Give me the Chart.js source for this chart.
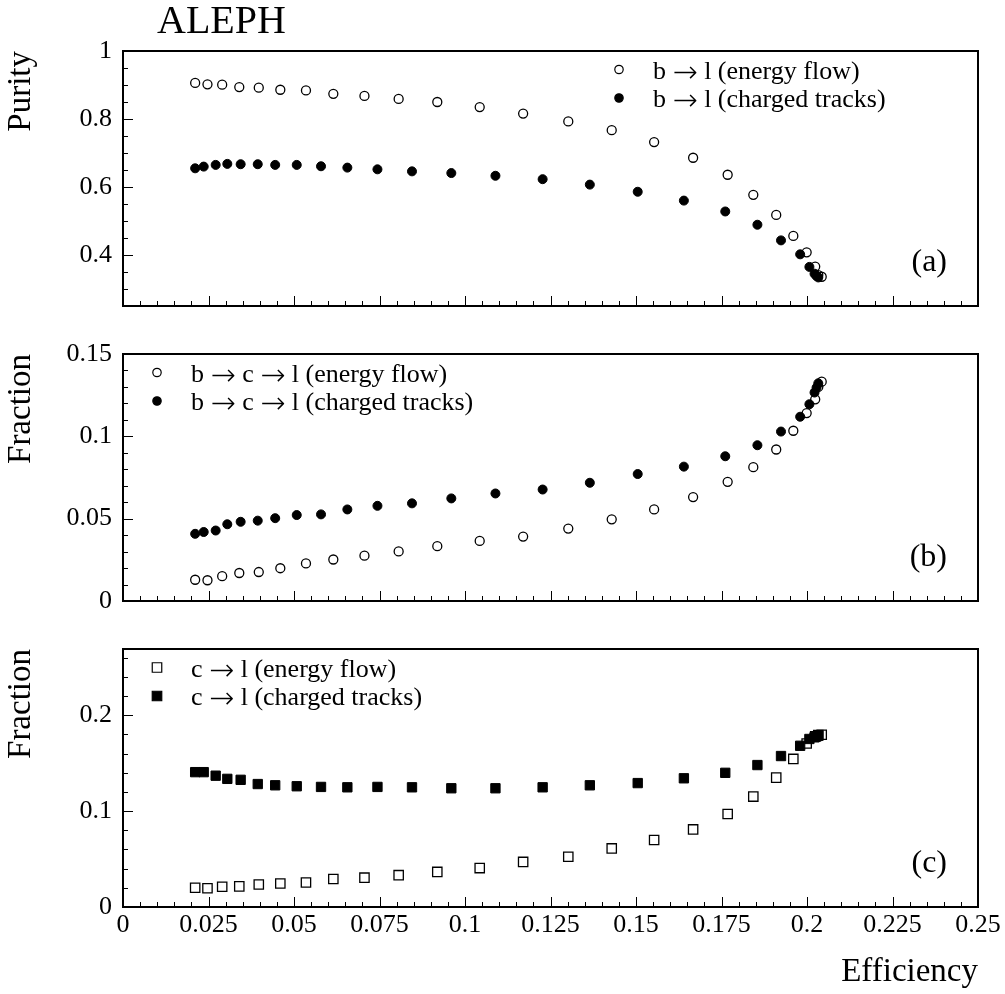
<!DOCTYPE html>
<html>
<head>
<meta charset="utf-8">
<script src="https://cdn.jsdelivr.net/npm/chart.js@4.4.0/dist/chart.umd.min.js"></script>
<style>
  body { margin: 0; background: #fff; }
  #wrap { position: relative; width: 1005px; height: 994px; }
  canvas { position: absolute; left: 0; }
</style>
</head>
<body>
<div id="wrap">
  <canvas id="chartA" width="1005" height="330" style="top:0px"></canvas>
  <canvas id="chartB" width="1005" height="295" style="top:330px"></canvas>
  <canvas id="chartC" width="1005" height="369" style="top:625px"></canvas>
</div>
<script>
const SERIF = "'Liberation Serif', 'Times New Roman', serif";

// efficiency values (x) for the two selections
const effEnergyFlow = [0.0211, 0.0247, 0.0290, 0.0340, 0.0397, 0.0460, 0.0535, 0.0615, 0.0706, 0.0806,
  0.0919, 0.1043, 0.1170, 0.1302, 0.1429, 0.1553, 0.1667, 0.1768, 0.1843, 0.1910,
  0.1960, 0.1999, 0.2024, 0.2033, 0.2043];
const effTracks = [0.0211, 0.0236, 0.0271, 0.0305, 0.0344, 0.0394, 0.0445, 0.0508, 0.0579, 0.0656,
  0.0744, 0.0845, 0.0960, 0.1089, 0.1227, 0.1365, 0.1505, 0.1640, 0.1761, 0.1855,
  0.1924, 0.1980, 0.2007, 0.2022, 0.2028, 0.2033];

// (a) purity b -> l
const purityEnergyFlow = [0.906, 0.902, 0.901, 0.894, 0.892, 0.886, 0.884, 0.874, 0.868, 0.859,
  0.850, 0.835, 0.816, 0.793, 0.767, 0.732, 0.686, 0.636, 0.577, 0.518,
  0.456, 0.408, 0.366, 0.341, 0.336];
const purityTracks = [0.655, 0.660, 0.665, 0.668, 0.667, 0.667, 0.665, 0.665, 0.661, 0.657,
  0.652, 0.646, 0.641, 0.633, 0.623, 0.607, 0.586, 0.560, 0.528, 0.489,
  0.443, 0.402, 0.365, 0.345, 0.338, 0.334];

// (b) fraction b -> c -> l
const bclEnergyFlow = [0.0129, 0.0126, 0.0151, 0.0170, 0.0176, 0.0199, 0.0228, 0.0252, 0.0275, 0.0301,
  0.0333, 0.0365, 0.0391, 0.0440, 0.0496, 0.0556, 0.0631, 0.0724, 0.0813, 0.0920,
  0.1034, 0.1141, 0.1225, 0.1300, 0.1332];
const bclTracks = [0.0408, 0.0419, 0.0428, 0.0466, 0.0481, 0.0488, 0.0503, 0.0522, 0.0526, 0.0556,
  0.0578, 0.0593, 0.0623, 0.0653, 0.0677, 0.0718, 0.0771, 0.0816, 0.0879, 0.0946,
  0.1029, 0.1119, 0.1195, 0.1266, 0.1296, 0.1322];

// (c) fraction c -> l
const clEnergyFlow = [0.0201, 0.0195, 0.0211, 0.0215, 0.0235, 0.0245, 0.0255, 0.0292, 0.0306, 0.0332,
  0.0366, 0.0406, 0.0470, 0.0524, 0.0611, 0.0698, 0.0809, 0.0970, 0.1151, 0.1349,
  0.1544, 0.1705, 0.1779, 0.1792, 0.1796];
const clTracks = [0.1406, 0.1406, 0.1369, 0.1336, 0.1326, 0.1282, 0.1269, 0.1259, 0.1252, 0.1248,
  0.1252, 0.1248, 0.1238, 0.1238, 0.1248, 0.1269, 0.1292, 0.1342, 0.1399, 0.1480,
  0.1574, 0.1681, 0.1752, 0.1769, 0.1779, 0.1786];

const legendA = ["b \u2192 l (energy flow)", "b \u2192 l (charged tracks)"];
const legendB = ["b \u2192 c \u2192 l (energy flow)", "b \u2192 c \u2192 l (charged tracks)"];
const legendC = ["c \u2192 l (energy flow)", "c \u2192 l (charged tracks)"];

Chart.defaults.font.family = SERIF;
Chart.defaults.color = '#000';

function fmt(v) {
    return String(Math.round(v * 1000) / 1000);
}

function isMult(v, step) {
    const r = v / step;
    return Math.abs(r - Math.round(r)) < 1e-6;
}

function drawMarker(ctx, shape, filled, x, y, size) {
    ctx.beginPath();
    if (shape === 'rect') {
        ctx.rect(x - size / 2, y - size / 2, size, size);
    } else {
        ctx.arc(x, y, size / 2, 0, Math.PI * 2);
    }
    if (filled) {
        ctx.fill();
    }
    ctx.stroke();
}

// legend text, with the arrows taken from a font that has a wide thin one
function drawLegendText(ctx, text, x, y) {
    const parts = text.split('\u2192');
    parts.forEach((part, i) => {
        if (i > 0) {
            ctx.font = '200 30px "DejaVu Sans"';
            ctx.fillText('\u2192', x, y + 3);
            x += ctx.measureText('\u2192').width;
        }
        ctx.font = '26px ' + SERIF;
        ctx.fillText(part, x, y);
        x += ctx.measureText(part).width;
    });
}

// frame, inward ticks, legend and panel label
const framePlugin = {
    id: 'frame',
    afterDatasetsDraw(chart, args, opts) {
        const ctx = chart.ctx;
        const a = chart.chartArea;
        const xs = chart.scales.x;
        const ys = chart.scales.y;
        ctx.save();
        ctx.strokeStyle = '#000';
        ctx.fillStyle = '#000';
        ctx.lineWidth = 1;
        ctx.beginPath();
        xs.ticks.forEach(t => {
            const px = Math.round(xs.getPixelForValue(t.value)) + 0.5;
            const len = isMult(t.value, 0.025) ? 10 : 5;
            ctx.moveTo(px, a.bottom);
            ctx.lineTo(px, a.bottom - len);
        });
        ys.ticks.forEach(t => {
            const py = Math.round(ys.getPixelForValue(t.value)) + 0.5;
            const len = isMult(t.value, opts.yMajor) ? 10 : 5;
            ctx.moveTo(a.left, py);
            ctx.lineTo(a.left + len, py);
        });
        ctx.stroke();

        ctx.lineWidth = 2;
        ctx.strokeRect(a.left, a.top, a.right - a.left, a.bottom - a.top);

        // legend
        ctx.lineWidth = 1.2;
        ctx.textAlign = 'left';
        ctx.textBaseline = 'alphabetic';
        opts.legend.forEach((text, i) => {
            const y = a.top + 18.5 + i * 28.5;
            const size = opts.shape === 'rect' ? 9.5 : 8.4;
            drawMarker(ctx, opts.shape, i === 1, opts.legendX, y, size);
            drawLegendText(ctx, text, opts.legendX + 34, y + 9);
        });

        // panel label
        ctx.font = '32px ' + SERIF;
        ctx.textAlign = 'right';
        ctx.fillText(opts.label, a.right - 31, a.bottom - 35);

        if (opts.title) {
            ctx.font = '40px ' + SERIF;
            ctx.textAlign = 'left';
            ctx.fillText(opts.title, 157, 33);
        }
        ctx.restore();
    }
};

function series(xs, ys, shape, filled) {
    return {
        data: xs.map((x, i) => ({ x: x, y: ys[i] })),
        pointStyle: shape,
        pointRadius: shape === 'rect' ? 6.6 : 4.5,
        pointBorderWidth: filled ? 1 : 1.3,
        pointBorderColor: '#000',
        pointBackgroundColor: filled ? '#000' : 'rgba(0,0,0,0)',
        showLine: false
    };
}

function makePanel(id, p) {
    return new Chart(document.getElementById(id), {
        type: 'scatter',
        data: { datasets: p.datasets },
        options: {
            responsive: false,
            animation: false,
            events: [],
            layout: { padding: { top: p.padTop, right: 27, bottom: 0, left: 0 } },
            plugins: {
                legend: { display: false },
                tooltip: { enabled: false },
                frame: p.frame
            },
            scales: {
                x: {
                    type: 'linear',
                    min: 0,
                    max: 0.25,
                    grid: { display: false, drawTicks: false },
                    border: { display: false },
                    ticks: {
                        display: p.xLabels,
                        stepSize: 0.005,
                        autoSkip: false,
                        maxRotation: 0,
                        minRotation: 0,
                        padding: 3,
                        font: { size: 26, lineHeight: 1.2 },
                        callback: v => isMult(v, 0.025) ? fmt(v) : ''
                    },
                    title: {
                        display: p.xLabels,
                        text: 'Efficiency',
                        align: 'end',
                        font: { size: 33 },
                        padding: { top: 0, bottom: 2 }
                    },
                    afterFit: s => { s.height = p.xHeight; }
                },
                y: {
                    type: 'linear',
                    min: p.yMin,
                    max: p.yMax,
                    grid: { display: false, drawTicks: false },
                    border: { display: false },
                    ticks: {
                        stepSize: p.yStep,
                        includeBounds: false,
                        autoSkip: false,
                        padding: 11,
                        font: { size: 26, lineHeight: 1 },
                        callback: v => isMult(v, p.frame.yMajor) ? fmt(v) : ''
                    },
                    title: {
                        display: true,
                        text: p.yTitle,
                        align: 'end',
                        font: { size: 33 },
                        padding: { top: 2, bottom: 0 }
                    },
                    afterFit: s => { s.width = 123; }
                }
            }
        },
        plugins: [framePlugin]
    });
}

makePanel('chartA', {
    padTop: 51, xHeight: 13, xLabels: false,
    yMin: 0.25, yMax: 1, yStep: 0.05, yTitle: 'Purity',
    datasets: [
        series(effEnergyFlow, purityEnergyFlow, 'circle', false),
        series(effTracks, purityTracks, 'circle', true)
    ],
    frame: { yMajor: 0.2, legend: legendA, legendX: 619, shape: 'circle', label: '(a)', title: 'ALEPH' }
});

makePanel('chartB', {
    padTop: 14, xHeight: 13, xLabels: false,
    yMin: 0, yMax: 0.15, yStep: 0.01, yTitle: 'Fraction',
    datasets: [
        series(effEnergyFlow, bclEnergyFlow, 'circle', false),
        series(effTracks, bclTracks, 'circle', true)
    ],
    frame: { yMajor: 0.05, legend: legendB, legendX: 157, shape: 'circle', label: '(b)' }
});

makePanel('chartC', {
    padTop: 15, xHeight: 87, xLabels: true,
    yMin: 0, yMax: 0.269, yStep: 0.02, yTitle: 'Fraction',
    datasets: [
        series(effEnergyFlow, clEnergyFlow, 'rect', false),
        series(effTracks, clTracks, 'rect', true)
    ],
    frame: { yMajor: 0.1, legend: legendC, legendX: 157, shape: 'rect', label: '(c)' }
});
</script>
</body>
</html>
